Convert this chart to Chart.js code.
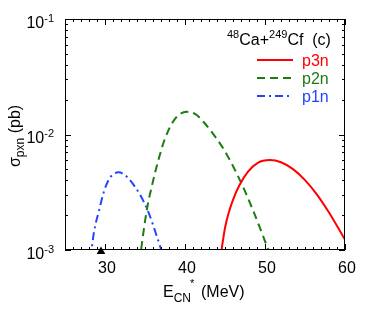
<!DOCTYPE html>
<html>
<head>
<meta charset="utf-8">
<script src="https://cdn.jsdelivr.net/npm/chart.js@4"></script>
<style>
  html, body { margin: 0; padding: 0; background: #fff; }
</style>
</head>
<body>
<canvas id="chart" width="374" height="320"></canvas>
<script>
// values (E* in MeV, sigma in pb)
const p3nE = [44.35, 45.0, 45.5, 46.0, 46.8, 47.9, 49.1, 50.6, 52.0, 53.5, 55.0, 56.5, 58.0, 60.0];
const p3nSigma = [0.00079, 0.00155, 0.00214, 0.00272, 0.00363, 0.00479, 0.00569, 0.0060, 0.00575, 0.00501, 0.00403, 0.00302, 0.00211, 0.00123];

const p2nE = [34.3, 35.2, 36.0, 36.7, 37.5, 38.75, 40.2, 41.3, 42.3, 44.0, 45.2, 47.1, 48.5, 49.8, 50.8];
const p2nSigma = [0.00079, 0.00217, 0.00394, 0.00611, 0.00923, 0.01365, 0.0157, 0.0150, 0.0129, 0.0091, 0.00676, 0.00372, 0.00221, 0.0013, 0.00085];

const p1nE = [28.2, 28.6, 29.3, 29.8, 30.4, 31.0, 31.7, 32.4, 33.1, 34.4, 35.4, 36.5, 37.3];
const p1nSigma = [0.00085, 0.0014, 0.00226, 0.0031, 0.00398, 0.00452, 0.0047, 0.0045, 0.00404, 0.00299, 0.00215, 0.0013, 0.00088];

const markE = [29.5];
const markSigma = [0.00097];

const xTickLabels = ['30', '40', '50', '60'];
const yTickExps = ['-3', '-2', '-1'];

const FONT = '"Liberation Sans", Arial, Helvetica, sans-serif';

function pts(xs, ys) {
  return xs.map((x, i) => ({ x: x, y: ys[i] }));
}

function curve(label, xs, ys, color, dash) {
  return {
    label: label,
    data: pts(xs, ys),
    borderColor: color,
    backgroundColor: color,
    borderWidth: 2,
    borderDash: dash,
    pointRadius: 0,
    cubicInterpolationMode: 'monotone',
    fill: false,
    clip: 0
  };
}

// frame, inward ticks, tick labels, axis titles, legend
const decor = {
  id: 'decor',
  afterDraw(chart) {
    const ctx = chart.ctx;
    const a = chart.chartArea;
    const xs = chart.scales.x;
    const ys = chart.scales.y;
    ctx.save();
    ctx.strokeStyle = '#000';
    ctx.lineWidth = 1;
    ctx.strokeRect(Math.round(a.left) + 0.5, Math.round(a.top) + 0.5,
      Math.round(a.right - a.left) - 1, Math.round(a.bottom - a.top) - 1);

    ctx.beginPath();
    for (let v = 25; v <= 60; v++) {
      const px = Math.round(xs.getPixelForValue(v)) + 0.5;
      const len = v % 10 === 0 ? 6 : 3;
      ctx.moveTo(px, a.bottom); ctx.lineTo(px, a.bottom - len);
      ctx.moveTo(px, a.top); ctx.lineTo(px, a.top + len);
    }
    for (let d = -3; d <= -1; d++) {
      for (let k = 1; k <= 9; k++) {
        if (d === -1 && k > 1) break;
        const py = Math.round(ys.getPixelForValue(k * Math.pow(10, d))) + 0.5;
        const len = k === 1 ? 6 : 3;
        ctx.moveTo(a.left, py); ctx.lineTo(a.left + len, py);
        ctx.moveTo(a.right, py); ctx.lineTo(a.right - len, py);
      }
    }
    ctx.stroke();

    ctx.fillStyle = '#000';
    ctx.textBaseline = 'alphabetic';
    // x tick labels
    ctx.font = '16px ' + FONT;
    ctx.textAlign = 'center';
    xTickLabels.forEach(t => {
      ctx.fillText(t, xs.getPixelForValue(Number(t)) + 2, a.bottom + 23);
    });
    // y tick labels 10^n
    yTickExps.forEach(e => {
      const py = ys.getPixelForValue(Math.pow(10, Number(e)));
      ctx.font = '11px ' + FONT;
      const ew = ctx.measureText(e).width;
      ctx.textAlign = 'left';
      const ex = 54 - ew;
      ctx.fillText(e, ex, py + 2.5);
      ctx.font = '16px ' + FONT;
      ctx.textAlign = 'right';
      ctx.fillText('10', ex, py + 8.5);
    });

    // x title: E_CN^* (MeV)
    ctx.textAlign = 'left';
    let x = 163;
    ctx.font = '16px ' + FONT;
    ctx.fillText('E', x, 297);
    x += ctx.measureText('E').width;
    ctx.font = '12px ' + FONT;
    ctx.fillText('CN', x, 302);
    const cnw = ctx.measureText('CN').width;
    ctx.font = '11px ' + FONT;
    ctx.fillText('*', x + cnw - 1, 287);
    x += cnw + 10;
    ctx.font = '16px ' + FONT;
    ctx.fillText('(MeV)', x, 297);

    // y title: sigma_pxn (pb), rotated
    ctx.save();
    ctx.translate(20, 167);
    ctx.rotate(-Math.PI / 2);
    let y = 0;
    ctx.font = '16px ' + FONT;
    ctx.fillText('\u03c3', y, 0);
    y += ctx.measureText('\u03c3').width;
    ctx.font = '12px ' + FONT;
    ctx.fillText('pxn', y, 4);
    y += ctx.measureText('pxn').width;
    ctx.font = '16px ' + FONT;
    ctx.fillText(' (pb)', y, 0);
    ctx.restore();

    // reaction label
    x = 227;
    const parts = [['48', 11, -7], ['Ca+', 16, 0], ['249', 11, -7], ['Cf', 16, 0], ['  (c)', 16, 0]];
    parts.forEach(p => {
      ctx.font = p[1] + 'px ' + FONT;
      ctx.fillText(p[0], x, 45 + p[2]);
      x += ctx.measureText(p[0]).width;
    });

    // legend
    const rows = [59.5, 77.5, 96];
    chart.data.datasets.slice(0, 3).forEach((ds, i) => {
      const ly = Math.round(rows[i]);
      ctx.strokeStyle = ds.borderColor;
      ctx.lineWidth = 2;
      ctx.setLineDash(ds.borderDash || []);
      ctx.beginPath();
      ctx.moveTo(257, ly); ctx.lineTo(293, ly);
      ctx.stroke();
      ctx.setLineDash([]);
      ctx.fillStyle = ds.borderColor;
      ctx.font = '16px ' + FONT;
      ctx.fillText(ds.label, 302, ly + 5.5);
    });
    ctx.restore();
  }
};

new Chart(document.getElementById('chart'), {
  type: 'line',
  data: {
    datasets: [
      curve('p3n', p3nE, p3nSigma, '#ff0000', []),
      curve('p2n', p2nE, p2nSigma, '#1e7b12', [8, 5]),
      curve('p1n', p1nE, p1nSigma, '#2244ff', [8, 4, 2, 4]),
      {
        label: 'mark',
        data: pts(markE, markSigma),
        showLine: false,
        pointStyle: 'triangle',
        pointRadius: 5,
        borderWidth: 0,
        backgroundColor: '#000',
        borderColor: '#000',
        clip: false
      }
    ]
  },
  options: {
    responsive: false,
    animation: false,
    devicePixelRatio: 1,
    layout: { padding: { left: 65, right: 29, top: 19, bottom: 70 } },
    plugins: { legend: { display: false }, tooltip: { enabled: false } },
    scales: {
      x: {
        type: 'linear', min: 25, max: 60,
        ticks: { display: false },
        grid: { display: false },
        border: { display: false },
        afterFit(s) { s.height = 0; }
      },
      y: {
        type: 'logarithmic', min: 0.001, max: 0.1,
        ticks: { display: false },
        grid: { display: false },
        border: { display: false },
        afterFit(s) { s.width = 0; }
      }
    }
  },
  plugins: [decor]
});
</script>
</body>
</html>
